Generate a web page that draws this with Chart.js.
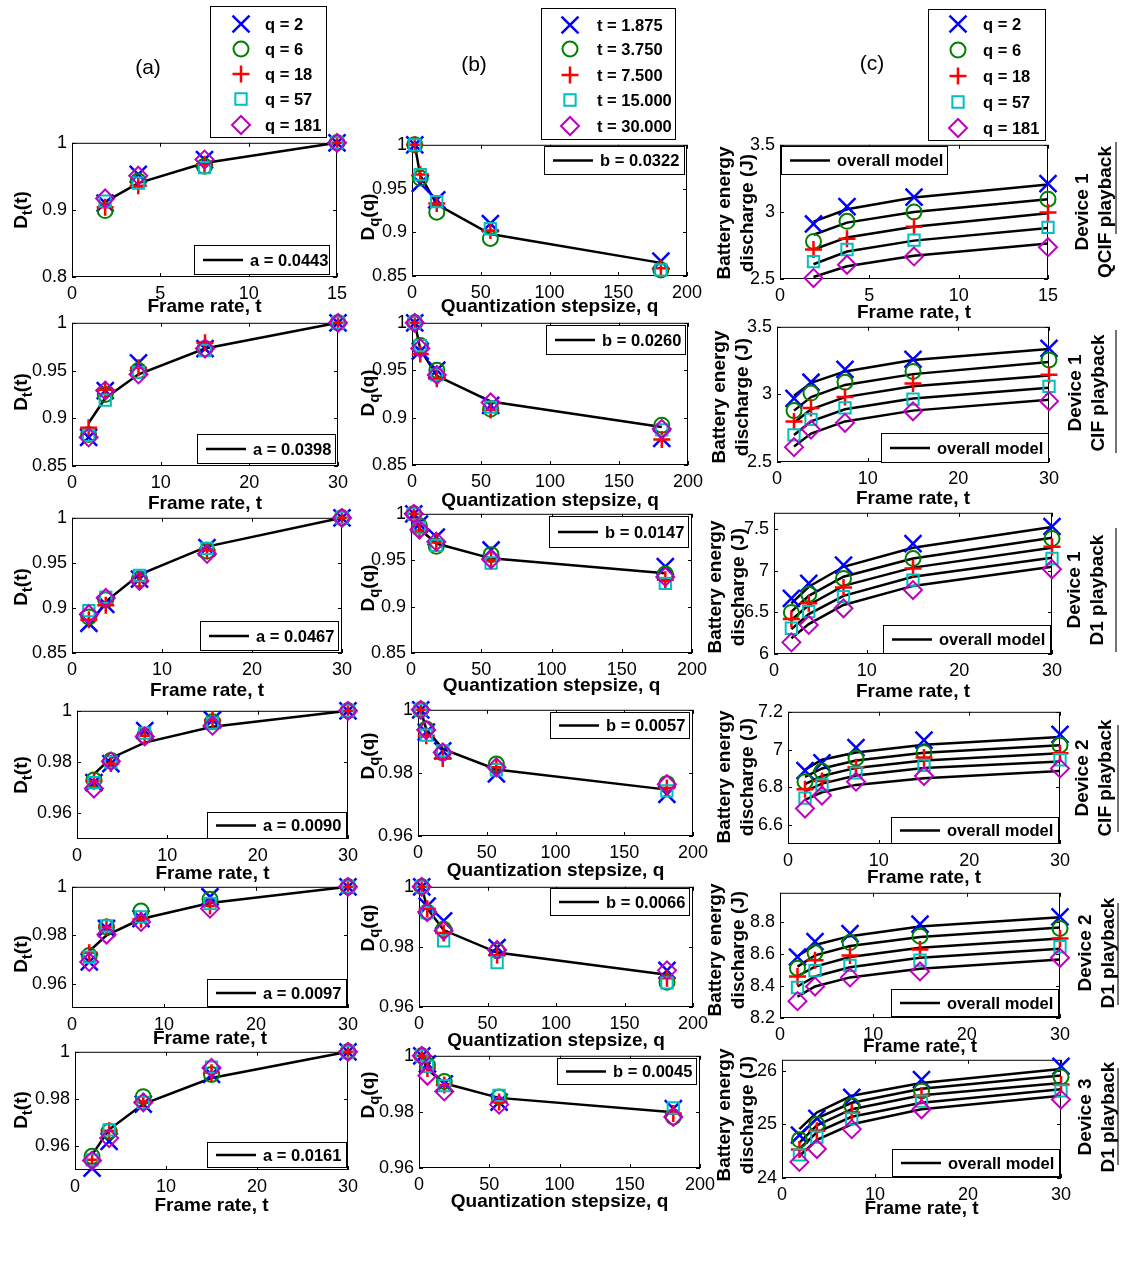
<!DOCTYPE html>
<html>
<head>
<meta charset="utf-8">
<script src="https://cdn.jsdelivr.net/npm/chart.js@4.4.1/dist/chart.umd.min.js"></script>
<style>
body { margin: 0; background: #fff; }
#page { position: relative; width: 1123px; height: 1266px; overflow: hidden; font-family: 'Liberation Sans', Arial, sans-serif; }
#page canvas { position: absolute; }
.lbl { position: absolute; white-space: nowrap; font-weight: bold; font-size: 19px; color: #000; text-align: center; line-height: 23px; transform: translate(-50%, -50%) rotate(-90deg); }
.lbl sub { font-size: 15px; vertical-align: -5px; line-height: 0; }
.tag { position: absolute; font-size: 21px; color: #000; transform: translate(-50%, -50%); }
</style>
</head>
<body>
<div id="page"></div>
<script>
// x values
var frameRates = [1.875, 3.75, 7.5, 15, 30];
var frameRatesQcif = [1.875, 3.75, 7.5, 15];
var stepSizes = [2, 6, 18, 57, 181];

var qLegend = ['q = 2', 'q = 6', 'q = 18', 'q = 57', 'q = 181'];
var tLegend = ['t = 1.875', 't = 3.750', 't = 7.500', 't = 15.000', 't = 30.000'];

// tick labels
var ticksT15 = [0, 5, 10, 15];
var ticksT30 = [0, 10, 20, 30];
var ticksQ = [0, 50, 100, 150, 200];
var ticksD80 = [0.8, 0.9, 1];
var ticksD85 = [0.85, 0.9, 0.95, 1];
var ticksD96 = [0.96, 0.98, 1];
var ticksE1 = [2.5, 3, 3.5];
var ticksE3 = [6, 6.5, 7, 7.5];
var ticksE4 = [6.6, 6.8, 7, 7.2];
var ticksE5 = [8.2, 8.4, 8.6, 8.8];
var ticksE6 = [24, 25, 26];

var fitLabelsA = ['a = 0.0443', 'a = 0.0398', 'a = 0.0467', 'a = 0.0090', 'a = 0.0097', 'a = 0.0161'];
var fitLabelsB = ['b = 0.0322', 'b = 0.0260', 'b = 0.0147', 'b = 0.0057', 'b = 0.0066', 'b = 0.0045'];
var modelLabel = 'overall model';
var deviceLabels = [['Device 1', 'QCIF playback'], ['Device 1', 'CIF playback'], ['Device 1', 'D1 playback'],
                    ['Device 2', 'CIF playback'], ['Device 2', 'D1 playback'], ['Device 3', 'D1 playback']];

// (a) D_t(t), one row per q
var dtA1 = [[0.910, 0.953, 0.975, 1], [0.899, 0.943, 0.965, 1], [0.904, 0.936, 0.968, 1], [0.913, 0.940, 0.963, 1], [0.917, 0.951, 0.975, 1]];
var fitA1 = [0.912, 0.940, 0.970, 1];
var dtA2 = [[0.880, 0.929, 0.958, 0.973, 1], [0.883, 0.925, 0.950, 0.973, 1], [0.890, 0.930, 0.953, 0.979, 1], [0.882, 0.919, 0.948, 0.971, 1], [0.880, 0.929, 0.946, 0.973, 1]];
var fitA2 = [0.895, 0.921, 0.946, 0.973, 1];
var dtA3 = [[0.883, 0.904, 0.932, 0.967, 1], [0.890, 0.909, 0.932, 0.963, 1], [0.887, 0.903, 0.930, 0.964, 1], [0.897, 0.912, 0.936, 0.966, 1], [0.893, 0.911, 0.930, 0.960, 1]];
var fitA3 = [0.879, 0.907, 0.937, 0.968, 1];
var dtA4 = [[0.9720, 0.9794, 0.9923, 0.9965, 1], [0.9730, 0.9806, 0.9903, 0.9957, 1], [0.9725, 0.9794, 0.9903, 0.9965, 1], [0.9720, 0.9800, 0.9913, 0.9952, 1], [0.9697, 0.9803, 0.9900, 0.9942, 1]];
var fitA4 = [0.9753, 0.9815, 0.9876, 0.9938, 1];
var dtA5 = [[0.9690, 0.9828, 0.9869, 0.9959, 1], [0.9717, 0.9834, 0.9900, 0.9949, 1], [0.9728, 0.9834, 0.9866, 0.9921, 1], [0.9710, 0.9839, 0.9876, 0.9931, 1], [0.9690, 0.9803, 0.9855, 0.9910, 1]];
var fitA5 = [0.9734, 0.9800, 0.9867, 0.9933, 1];
var dtA6 = [[0.9508, 0.9621, 0.9779, 0.9904, 1], [0.9558, 0.9664, 0.9810, 0.9904, 1], [0.9543, 0.9666, 0.9790, 0.9911, 1], [0.9543, 0.9670, 0.9786, 0.9935, 1], [0.9540, 0.9635, 0.9786, 0.9932, 1]];
var fitA6 = [0.9564, 0.9671, 0.9779, 0.9889, 1];

// (b) D_q(q), one row per t
var dqB1 = [[1, 0.956, 0.937, 0.910, 0.867], [1, 0.962, 0.923, 0.893, 0.857], [1, 0.966, 0.933, 0.902, 0.859], [1, 0.966, 0.935, 0.904, 0.857]];
var fitB1 = [1, 0.965, 0.932, 0.898, 0.865];
var dqB2 = [[1, 0.970, 0.950, 0.913, 0.878], [1, 0.976, 0.950, 0.909, 0.892], [1, 0.967, 0.941, 0.908, 0.877], [1, 0.976, 0.945, 0.911, 0.887], [1, 0.973, 0.945, 0.916, 0.888]];
var fitB2 = [1, 0.972, 0.944, 0.917, 0.890];
var dqB3 = [[1, 0.989, 0.975, 0.961, 0.943], [1, 0.987, 0.965, 0.956, 0.935], [1, 0.982, 0.969, 0.950, 0.929], [1, 0.985, 0.966, 0.947, 0.925], [1, 0.983, 0.970, 0.951, 0.932]];
var fitB3 = [1, 0.984, 0.968, 0.952, 0.936];
var dqB4 = [[1, 0.9929, 0.9870, 0.9797, 0.9732], [1, 0.9939, 0.9863, 0.9828, 0.9766], [1, 0.9918, 0.9846, 0.9818, 0.9752], [1, 0.9920, 0.9870, 0.9810, 0.9743], [1, 0.9936, 0.9865, 0.9818, 0.9764]];
var fitB4 = [1, 0.9938, 0.9876, 0.9811, 0.9747];
var dqB5 = [[1, 0.9936, 0.9887, 0.9798, 0.9722], [1, 0.9916, 0.9859, 0.9787, 0.9682], [1, 0.9927, 0.9846, 0.9773, 0.9696], [1, 0.9914, 0.9820, 0.9748, 0.9680], [1, 0.9916, 0.9854, 0.9790, 0.9722]];
var fitB5 = [1, 0.9928, 0.9856, 0.9781, 0.9707];
var dqB6 = [[1, 0.9971, 0.9900, 0.9835, 0.9812], [1, 0.9967, 0.9908, 0.9853, 0.9782], [1, 0.9955, 0.9896, 0.9835, 0.9794], [1, 0.9962, 0.9894, 0.9859, 0.9814], [1, 0.9929, 0.9873, 0.9826, 0.9782]];
var fitB6 = [1, 0.9951, 0.9902, 0.9850, 0.9799];

// (c) battery energy discharge (J), one row per q
var energyC1 = [[2.91, 3.04, 3.11, 3.21], [2.78, 2.93, 3.00, 3.095], [2.72, 2.80, 2.89, 2.995], [2.63, 2.72, 2.79, 2.885], [2.507, 2.606, 2.668, 2.737]];
var modelC1 = [[2.927, 3.02, 3.107, 3.204], [2.83, 2.92, 3.0, 3.095], [2.72, 2.81, 2.89, 2.99], [2.61, 2.705, 2.786, 2.88], [2.515, 2.595, 2.673, 2.765]];
var energyC2 = [[2.97, 3.09, 3.185, 3.26, 3.34], [2.88, 3.01, 3.09, 3.17, 3.255], [2.80, 2.90, 2.98, 3.08, 3.145], [2.70, 2.815, 2.90, 2.965, 3.06], [2.61, 2.74, 2.79, 2.875, 2.95]];
var modelC2 = [[2.99, 3.085, 3.17, 3.255, 3.336], [2.88, 2.98, 3.07, 3.15, 3.24], [2.79, 2.89, 2.98, 3.06, 3.14], [2.70, 2.80, 2.89, 2.97, 3.05], [2.615, 2.71, 2.80, 2.88, 2.96]];
var energyC3 = [[6.67, 6.85, 7.07, 7.33, 7.535], [6.50, 6.72, 6.91, 7.15, 7.39], [6.42, 6.61, 6.80, 7.03, 7.29], [6.31, 6.51, 6.69, 6.89, 7.15], [6.14, 6.35, 6.55, 6.77, 7.02]];
var modelC3 = [[6.61, 6.81, 7.05, 7.28, 7.53], [6.51, 6.70, 6.93, 7.15, 7.40], [6.41, 6.59, 6.82, 7.04, 7.28], [6.30, 6.48, 6.70, 6.93, 7.16], [6.19, 6.36, 6.59, 6.82, 7.05]];
var energyC4 = [[6.889, 6.93, 7.01, 7.05, 7.08], [6.83, 6.885, 6.954, 6.985, 7.023], [6.79, 6.834, 6.906, 6.958, 6.98], [6.743, 6.813, 6.877, 6.916, 6.946], [6.688, 6.757, 6.83, 6.86, 6.90]];
var modelC4 = [[6.894, 6.946, 6.985, 7.026, 7.066], [6.855, 6.90, 6.942, 6.983, 7.023], [6.817, 6.86, 6.903, 6.942, 6.98], [6.779, 6.82, 6.863, 6.903, 6.937], [6.734, 6.774, 6.813, 6.848, 6.886]];
var energyC5 = [[8.58, 8.676, 8.726, 8.785, 8.83], [8.51, 8.606, 8.67, 8.71, 8.758], [8.459, 8.56, 8.589, 8.627, 8.695], [8.39, 8.495, 8.528, 8.56, 8.644], [8.305, 8.396, 8.453, 8.49, 8.575]];
var modelC5 = [[8.585, 8.655, 8.71, 8.77, 8.827], [8.52, 8.59, 8.648, 8.705, 8.764], [8.46, 8.52, 8.58, 8.638, 8.695], [8.396, 8.459, 8.516, 8.575, 8.632], [8.333, 8.396, 8.453, 8.507, 8.564]];
var energyC6 = [[24.8, 25.11, 25.5, 25.83, 26.08], [24.71, 25.0, 25.35, 25.62, 25.88], [24.53, 24.88, 25.22, 25.53, 25.74], [24.43, 24.76, 25.1, 25.43, 25.62], [24.3, 24.54, 24.91, 25.28, 25.46]];
var modelC6 = [[24.91, 25.22, 25.53, 25.77, 26.03], [24.79, 25.11, 25.40, 25.66, 25.91], [24.66, 24.98, 25.28, 25.54, 25.77], [24.54, 24.85, 25.14, 25.40, 25.65], [24.41, 24.71, 25.00, 25.28, 25.53]];

// marker looks (matlab defaults x, o, +, square, diamond)
var markers = [
    { color: '#0000ff', style: 'crossRot', r: 12, w: 2.5 },
    { color: '#008000', style: 'circle', r: 7.5, w: 2 },
    { color: '#ff0000', style: 'cross', r: 8.5, w: 2.5 },
    { color: '#00bfbf', style: 'rect', r: 8, w: 2 },
    { color: '#bf00bf', style: 'rectRot', r: 9, w: 2 }
];

var FONT = "'Liberation Sans', Arial, sans-serif";
var titleT = 'Frame rate, t';
var titleQ = 'Quantization stepsize, q';

// plot = [left, top, right, bottom] of the axes box, box = fit legend [x, y, w, h]
var panels = [
    { plot: [72, 142, 337, 277], xr: [0, 15], yr: [0.8, 1], xt: ticksT15, yt: ticksD80, xs: frameRatesQcif, pts: dtA1, fits: [fitA1], xTitle: titleT, tOff: 29, box: [194, 245, 136, 30], boxText: fitLabelsA[0] },
    { plot: [72, 322, 338, 466], xr: [0, 30], yr: [0.85, 1], xt: ticksT30, yt: ticksD85, xs: frameRates, pts: dtA2, fits: [fitA2], xTitle: titleT, tOff: 37, box: [197, 434, 139, 30], boxText: fitLabelsA[1] },
    { plot: [72, 517, 342, 653], xr: [0, 30], yr: [0.85, 1], xt: ticksT30, yt: ticksD85, xs: frameRates, pts: dtA3, fits: [fitA3], xTitle: titleT, tOff: 37, box: [200, 621, 139, 30], boxText: fitLabelsA[2] },
    { plot: [77, 710, 348, 839], xr: [0, 30], yr: [0.95, 1], xt: ticksT30, yt: ticksD96, xs: frameRates, pts: dtA4, fits: [fitA4], xTitle: titleT, tOff: 34, box: [207, 812, 140, 27], boxText: fitLabelsA[3] },
    { plot: [72, 886, 348, 1008], xr: [0, 30], yr: [0.95, 1], xt: ticksT30, yt: ticksD96, xs: frameRates, pts: dtA5, fits: [fitA5], xTitle: titleT, tOff: 30, box: [207, 979, 140, 28], boxText: fitLabelsA[4] },
    { plot: [75, 1051, 348, 1170], xr: [0, 30], yr: [0.95, 1], xt: ticksT30, yt: ticksD96, xs: frameRates, pts: dtA6, fits: [fitA6], xTitle: titleT, tOff: 35, box: [207, 1142, 140, 26], boxText: fitLabelsA[5] },

    { plot: [412, 144, 687, 276], xr: [0, 200], yr: [0.85, 1], xt: ticksQ, yt: ticksD85, xs: stepSizes, pts: dqB1, fits: [fitB1], xTitle: titleQ, tOff: 30, box: [544, 146, 141, 29], boxText: fitLabelsB[0] },
    { plot: [412, 322, 688, 465], xr: [0, 200], yr: [0.85, 1], xt: ticksQ, yt: ticksD85, xs: stepSizes, pts: dqB2, fits: [fitB2], xTitle: titleQ, tOff: 35, box: [546, 325, 140, 30], boxText: fitLabelsB[1] },
    { plot: [411, 513, 692, 653], xr: [0, 200], yr: [0.85, 1], xt: ticksQ, yt: ticksD85, xs: stepSizes, pts: dqB3, fits: [fitB3], xTitle: titleQ, tOff: 32, box: [549, 516, 140, 32], boxText: fitLabelsB[2] },
    { plot: [418, 709, 693, 836], xr: [0, 200], yr: [0.96, 1], xt: ticksQ, yt: ticksD96, xs: stepSizes, pts: dqB4, fits: [fitB4], xTitle: titleQ, tOff: 34, box: [550, 712, 140, 27], boxText: fitLabelsB[3] },
    { plot: [419, 886, 693, 1007], xr: [0, 200], yr: [0.96, 1], xt: ticksQ, yt: ticksD96, xs: stepSizes, pts: dqB5, fits: [fitB5], xTitle: titleQ, tOff: 33, box: [550, 888, 140, 28], boxText: fitLabelsB[4] },
    { plot: [419, 1055, 700, 1168], xr: [0, 200], yr: [0.96, 1], xt: ticksQ, yt: ticksD96, xs: stepSizes, pts: dqB6, fits: [fitB6], xTitle: titleQ, tOff: 33, box: [557, 1058, 140, 27], boxText: fitLabelsB[5] },

    { plot: [780, 144, 1048, 279], xr: [0, 15], yr: [2.5, 3.5], xt: ticksT15, yt: ticksE1, xs: frameRatesQcif, pts: energyC1, fits: modelC1, xTitle: titleT, tOff: 33, box: [781, 146, 167, 29], boxText: modelLabel },
    { plot: [777, 326, 1049, 462], xr: [0, 30], yr: [2.5, 3.5], xt: ticksT30, yt: ticksE1, xs: frameRates, pts: energyC2, fits: modelC2, xTitle: titleT, tOff: 36, box: [881, 433, 168, 30], boxText: modelLabel },
    { plot: [774, 512, 1052, 654], xr: [0, 30], yr: [6, 7.7], xt: ticksT30, yt: ticksE3, xs: frameRates, pts: energyC3, fits: modelC3, xTitle: titleT, tOff: 37, box: [883, 625, 168, 29], boxText: modelLabel },
    { plot: [788, 711, 1060, 844], xr: [0, 30], yr: [6.5, 7.2], xt: ticksT30, yt: ticksE4, xs: frameRates, pts: energyC4, fits: modelC4, xTitle: titleT, tOff: 33, box: [891, 817, 168, 27], boxText: modelLabel },
    { plot: [780, 892, 1060, 1018], xr: [0, 30], yr: [8.2, 8.98], xt: ticksT30, yt: ticksE5, xs: frameRates, pts: energyC5, fits: modelC5, xTitle: titleT, tOff: 28, box: [891, 989, 168, 28], boxText: modelLabel },
    { plot: [782, 1059, 1061, 1178], xr: [0, 30], yr: [24, 26.2], xt: ticksT30, yt: ticksE6, xs: frameRates, pts: energyC6, fits: modelC6, xTitle: titleT, tOff: 30, box: [892, 1149, 168, 28], boxText: modelLabel }
];

var yLabelA = [[20, 210], [20, 392], [20, 587], [20, 775], [20, 954], [20, 1110]];
var yLabelB = [[367, 217], [367, 393], [367, 588], [367, 756], [367, 928], [367, 1095]];
var yLabelC = [[735, 213], [730, 397], [726, 587], [735, 777], [726, 950], [735, 1115]];
var deviceSpots = [[1093, 212], [1086, 393], [1085, 590], [1093, 778], [1096, 953], [1096, 1117]];
var deviceBars = [[1116, 142, 234], [1116, 330, 453], [1116, 528, 652], [1118, 725, 832], [1118, 903, 1005], [1118, 1068, 1165]];

var topLegends = [
    { box: [210, 6, 117, 132], rows: [24, 49, 74, 99, 125], mx: 241, tx: 265, labels: qLegend },
    { box: [541, 8, 135, 132], rows: [25, 49, 75, 100, 126], mx: 570, tx: 597, labels: tLegend },
    { box: [928, 9, 118, 132], rows: [24, 50, 76, 102, 128], mx: 958, tx: 983, labels: qLegend }
];

var page = document.getElementById('page');

// axes box + matlab style inward ticks
var framePlugin = {
    id: 'frame',
    beforeDatasetsDraw: function(chart) {
        var a = chart.chartArea, ctx = chart.ctx;
        var xs = chart.scales.x, ys = chart.scales.y;
        ctx.save();
        ctx.strokeStyle = '#000';
        ctx.lineWidth = 1;
        ctx.strokeRect(a.left + 0.5, a.top + 0.5, a.right - a.left - 1, a.bottom - a.top - 1);
        ctx.beginPath();
        xs.ticks.forEach(function(t) {
            var px = Math.round(xs.getPixelForValue(t.value)) + 0.5;
            ctx.moveTo(px, a.bottom); ctx.lineTo(px, a.bottom - 4);
            ctx.moveTo(px, a.top); ctx.lineTo(px, a.top + 4);
        });
        ys.ticks.forEach(function(t) {
            var py = Math.round(ys.getPixelForValue(t.value)) + 0.5;
            ctx.moveTo(a.left, py); ctx.lineTo(a.left + 4, py);
            ctx.moveTo(a.right, py); ctx.lineTo(a.right - 4, py);
        });
        ctx.stroke();
        ctx.restore();
    }
};

// legend box inside the axes (fit line sample + text)
var boxPlugin = {
    id: 'fitBox',
    afterDraw: function(chart, args, o) {
        var ctx = chart.ctx;
        var x = o.x, y = o.y, w = o.w, h = o.h;
        ctx.save();
        ctx.fillStyle = '#fff';
        ctx.fillRect(x, y, w, h);
        ctx.strokeStyle = '#000';
        ctx.lineWidth = 1;
        ctx.strokeRect(x + 0.5, y + 0.5, w - 1, h - 1);
        ctx.beginPath();
        ctx.moveTo(x + 9, y + h / 2);
        ctx.lineTo(x + 49, y + h / 2);
        ctx.lineWidth = 2.5;
        ctx.stroke();
        ctx.fillStyle = '#000';
        ctx.font = 'bold 16.5px ' + FONT;
        ctx.textBaseline = 'middle';
        ctx.fillText(o.text, x + 56, y + h / 2 + 1);
        ctx.restore();
    }
};

function buildPanel(p) {
    var left = p.plot[0] - 70, top = p.plot[1] - 15;
    var xh = Math.round(p.tOff + 9.5);
    var cv = document.createElement('canvas');
    cv.width = p.plot[2] - p.plot[0] + 100;
    cv.height = p.plot[3] - p.plot[1] + 15 + xh;
    cv.style.left = left + 'px';
    cv.style.top = top + 'px';
    page.appendChild(cv);

    var datasets = [];
    p.fits.forEach(function(f) {
        datasets.push({
            data: p.xs.map(function(x, i) { return { x: x, y: f[i] }; }),
            showLine: true, borderColor: '#000', borderWidth: 2.5, pointRadius: 0,
            order: 10, clip: false
        });
    });
    p.pts.forEach(function(s, k) {
        var m = markers[k];
        datasets.push({
            data: p.xs.map(function(x, i) { return { x: x, y: s[i] }; }),
            showLine: false, pointStyle: m.style, pointRadius: m.r, pointBorderWidth: m.w,
            borderColor: m.color, pointBorderColor: m.color,
            backgroundColor: 'rgba(0,0,0,0)', pointBackgroundColor: 'rgba(0,0,0,0)',
            order: 5 - k, clip: false
        });
    });

    var tickFont = { family: FONT, size: 18 };
    new Chart(cv.getContext('2d'), {
        type: 'scatter',
        data: { datasets: datasets },
        plugins: [framePlugin, boxPlugin],
        options: {
            responsive: false, animation: false, devicePixelRatio: 1, events: [],
            layout: { padding: { left: 0, top: 15, right: 30, bottom: 0 } },
            plugins: {
                legend: { display: false }, tooltip: { enabled: false },
                fitBox: { x: p.box[0] - left, y: p.box[1] - top, w: p.box[2], h: p.box[3], text: p.boxText }
            },
            scales: {
                x: {
                    type: 'linear', min: p.xr[0], max: p.xr[1],
                    grid: { display: false, drawTicks: false }, border: { display: false },
                    ticks: { font: tickFont, color: '#000', padding: 6, maxRotation: 0, autoSkip: false,
                             callback: function(v) { return String(v); } },
                    afterBuildTicks: function(s) { s.ticks = p.xt.map(function(v) { return { value: v }; }); },
                    title: { display: true, text: p.xTitle, color: '#000', padding: 0,
                             font: { family: FONT, size: 19, weight: 'bold', lineHeight: 1 } },
                    afterFit: function(s) { s.height = xh; }
                },
                y: {
                    type: 'linear', min: p.yr[0], max: p.yr[1],
                    grid: { display: false, drawTicks: false }, border: { display: false },
                    ticks: { font: tickFont, color: '#000', padding: 5, autoSkip: false,
                             callback: function(v) { return String(v); } },
                    afterBuildTicks: function(s) { s.ticks = p.yt.map(function(v) { return { value: v }; }); },
                    afterFit: function(s) { s.width = 70; }
                }
            }
        }
    });
}

function drawMarker(ctx, style, x, y, r) {
    var d = r * Math.SQRT1_2;
    ctx.beginPath();
    if (style === 'crossRot') {
        ctx.moveTo(x - d, y - d); ctx.lineTo(x + d, y + d);
        ctx.moveTo(x - d, y + d); ctx.lineTo(x + d, y - d);
    } else if (style === 'circle') {
        ctx.arc(x, y, r, 0, Math.PI * 2);
    } else if (style === 'cross') {
        ctx.moveTo(x - r, y); ctx.lineTo(x + r, y);
        ctx.moveTo(x, y - r); ctx.lineTo(x, y + r);
    } else if (style === 'rect') {
        ctx.rect(x - d, y - d, 2 * d, 2 * d);
    } else {
        ctx.moveTo(x - r, y); ctx.lineTo(x, y - r); ctx.lineTo(x + r, y); ctx.lineTo(x, y + r); ctx.closePath();
    }
    ctx.stroke();
}

function drawBackground() {
    var cv = document.createElement('canvas');
    cv.width = 1123; cv.height = 1266;
    cv.style.left = '0px'; cv.style.top = '0px';
    page.appendChild(cv);
    var ctx = cv.getContext('2d');
    topLegends.forEach(function(lg) {
        ctx.fillStyle = '#fff';
        ctx.fillRect(lg.box[0], lg.box[1], lg.box[2], lg.box[3]);
        ctx.strokeStyle = '#000';
        ctx.lineWidth = 1;
        ctx.strokeRect(lg.box[0] + 0.5, lg.box[1] + 0.5, lg.box[2] - 1, lg.box[3] - 1);
        lg.rows.forEach(function(y, k) {
            var m = markers[k];
            ctx.strokeStyle = m.color;
            ctx.lineWidth = m.w;
            drawMarker(ctx, m.style, lg.mx, y, m.r);
            ctx.fillStyle = '#000';
            ctx.font = 'bold 16.5px ' + FONT;
            ctx.textBaseline = 'middle';
            ctx.fillText(lg.labels[k], lg.tx, y + 1);
        });
    });
    ctx.strokeStyle = '#444';
    ctx.lineWidth = 1.5;
    deviceBars.forEach(function(b) {
        ctx.beginPath();
        ctx.moveTo(b[0], b[1]); ctx.lineTo(b[0], b[2]);
        ctx.stroke();
    });
}

function addText(cls, html, x, y) {
    var d = document.createElement('div');
    d.className = cls;
    d.innerHTML = html;
    d.style.left = x + 'px';
    d.style.top = y + 'px';
    page.appendChild(d);
}

drawBackground();
panels.forEach(buildPanel);

addText('tag', '(a)', 148, 67);
addText('tag', '(b)', 474, 64);
addText('tag', '(c)', 872, 63);
yLabelA.forEach(function(s) { addText('lbl', 'D<sub>t</sub>(t)', s[0], s[1]); });
yLabelB.forEach(function(s) { addText('lbl', 'D<sub>q</sub>(q)', s[0], s[1]); });
yLabelC.forEach(function(s) { addText('lbl', 'Battery energy<br>discharge (J)', s[0], s[1]); });
deviceSpots.forEach(function(s, i) { addText('lbl', deviceLabels[i][0] + '<br>' + deviceLabels[i][1], s[0], s[1]); });
</script>
</body>
</html>
